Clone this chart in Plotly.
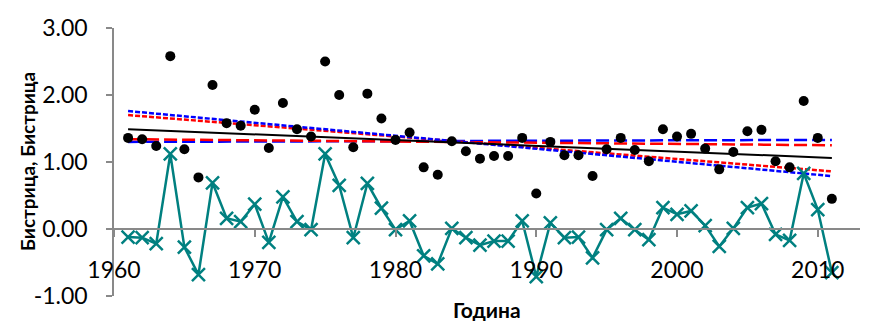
import plotly.graph_objects as go

years = list(range(1961, 2012))

bistrica = [1.36, 1.34, 1.24, 2.58, 1.19, 0.77, 2.15, 1.58, 1.54, 1.78,
            1.21, 1.88, 1.49, 1.38, 2.50, 2.00, 1.22, 2.02, 1.65, 1.33,
            1.44, 0.92, 0.81, 1.31, 1.16, 1.05, 1.09, 1.09, 1.36, 0.53,
            1.30, 1.10, 1.10, 0.79, 1.19, 1.36, 1.18, 1.01, 1.49, 1.38,
            1.42, 1.20, 0.89, 1.15, 1.46, 1.48, 1.01, 0.92, 1.91, 1.36,
            0.45]

anomaly = [-0.12, -0.13, -0.22, 1.12, -0.27, -0.68, 0.69, 0.16, 0.11, 0.37,
           -0.20, 0.48, 0.11, -0.01, 1.12, 0.65, -0.13, 0.68, 0.31, -0.01,
           0.12, -0.40, -0.52, 0.01, -0.13, -0.24, -0.18, -0.18, 0.12, -0.71,
           0.09, -0.13, -0.12, -0.43, -0.01, 0.16, -0.01, -0.16, 0.32, 0.22,
           0.27, 0.05, -0.26, 0.01, 0.32, 0.38, -0.08, -0.17, 0.83, 0.29,
           -0.65]

trend_years = [1961, 2011]
trend_linear = [1.49, 1.06]
trend_red_short = [1.70, 0.86]
trend_blue_short = [1.76, 0.79]
trend_red_long = [1.34, 1.25]
trend_blue_long = [1.30, 1.33]

x_ticks = [1960, 1970, 1980, 1990, 2000, 2010]
y_ticks = [-1, 0, 1, 2, 3]

TEAL = "#008080"
AXIS = "#898989"
FONT = "Lato"

fig = go.Figure()

fig.add_trace(go.Scatter(x=trend_years, y=trend_blue_long, mode="lines",
                         line=dict(color="#0000FF", width=2.5, dash="13px,5px"), hoverinfo="skip"))
fig.add_trace(go.Scatter(x=trend_years, y=trend_red_long, mode="lines",
                         line=dict(color="#FF0000", width=2.5, dash="13px,5px"), hoverinfo="skip"))
fig.add_trace(go.Scatter(x=trend_years, y=trend_red_short, mode="lines",
                         line=dict(color="#FF0000", width=2.5, dash="5px,2px"), hoverinfo="skip"))
fig.add_trace(go.Scatter(x=trend_years, y=trend_blue_short, mode="lines",
                         line=dict(color="#0000FF", width=2.5, dash="5px,2px"), hoverinfo="skip"))
fig.add_trace(go.Scatter(x=trend_years, y=trend_linear, mode="lines",
                         line=dict(color="#000000", width=2), hoverinfo="skip"))

fig.add_trace(go.Scatter(x=years, y=anomaly, mode="lines+markers",
                         line=dict(color=TEAL, width=2.5),
                         marker=dict(symbol="x-thin", size=13,
                                     line=dict(color=TEAL, width=2.5), color=TEAL)))
fig.add_trace(go.Scatter(x=years, y=bistrica, mode="markers",
                         marker=dict(symbol="circle", size=10, color="#000000")))

fig.update_layout(
    width=877, height=321,
    margin=dict(l=114, r=17, t=28, b=22),
    paper_bgcolor="white", plot_bgcolor="white",
    showlegend=False,
    font=dict(family=FONT, color="#000000", size=23),
    xaxis=dict(range=[1960, 2013], tickvals=x_ticks, ticktext=[str(v) for v in x_ticks],
               showline=True, linecolor=AXIS, linewidth=1.5,
               ticks="outside", ticklen=7, tickcolor=AXIS, tickwidth=1.5,
               showgrid=False, zeroline=False,
               anchor="free", position=0.25, ticklabelstandoff=14,
               tickfont=dict(family=FONT, size=23)),
    yaxis=dict(range=[-1, 3], tickvals=y_ticks, ticktext=[f"{v:.2f}" for v in y_ticks],
               showline=True, linecolor=AXIS, linewidth=1.5,
               ticks="outside", ticklen=6, tickcolor=AXIS, tickwidth=1.5,
               showgrid=False, zeroline=False, ticklabelstandoff=14,
               tickfont=dict(family=FONT, size=23)),
    annotations=[
        dict(text="<b>Година</b>", xref="paper", yref="paper", x=0.5, y=0,
             yshift=-13, yanchor="middle", showarrow=False,
             font=dict(family=FONT, size=21)),
        dict(text="<b>Бистрица, Бистрица</b>", xref="paper", yref="paper", x=0, y=0.5,
             xshift=-87, xanchor="center", yanchor="middle", textangle=-90, showarrow=False,
             font=dict(family=FONT, size=19)),
    ],
)

fig.write_html("out.html")
